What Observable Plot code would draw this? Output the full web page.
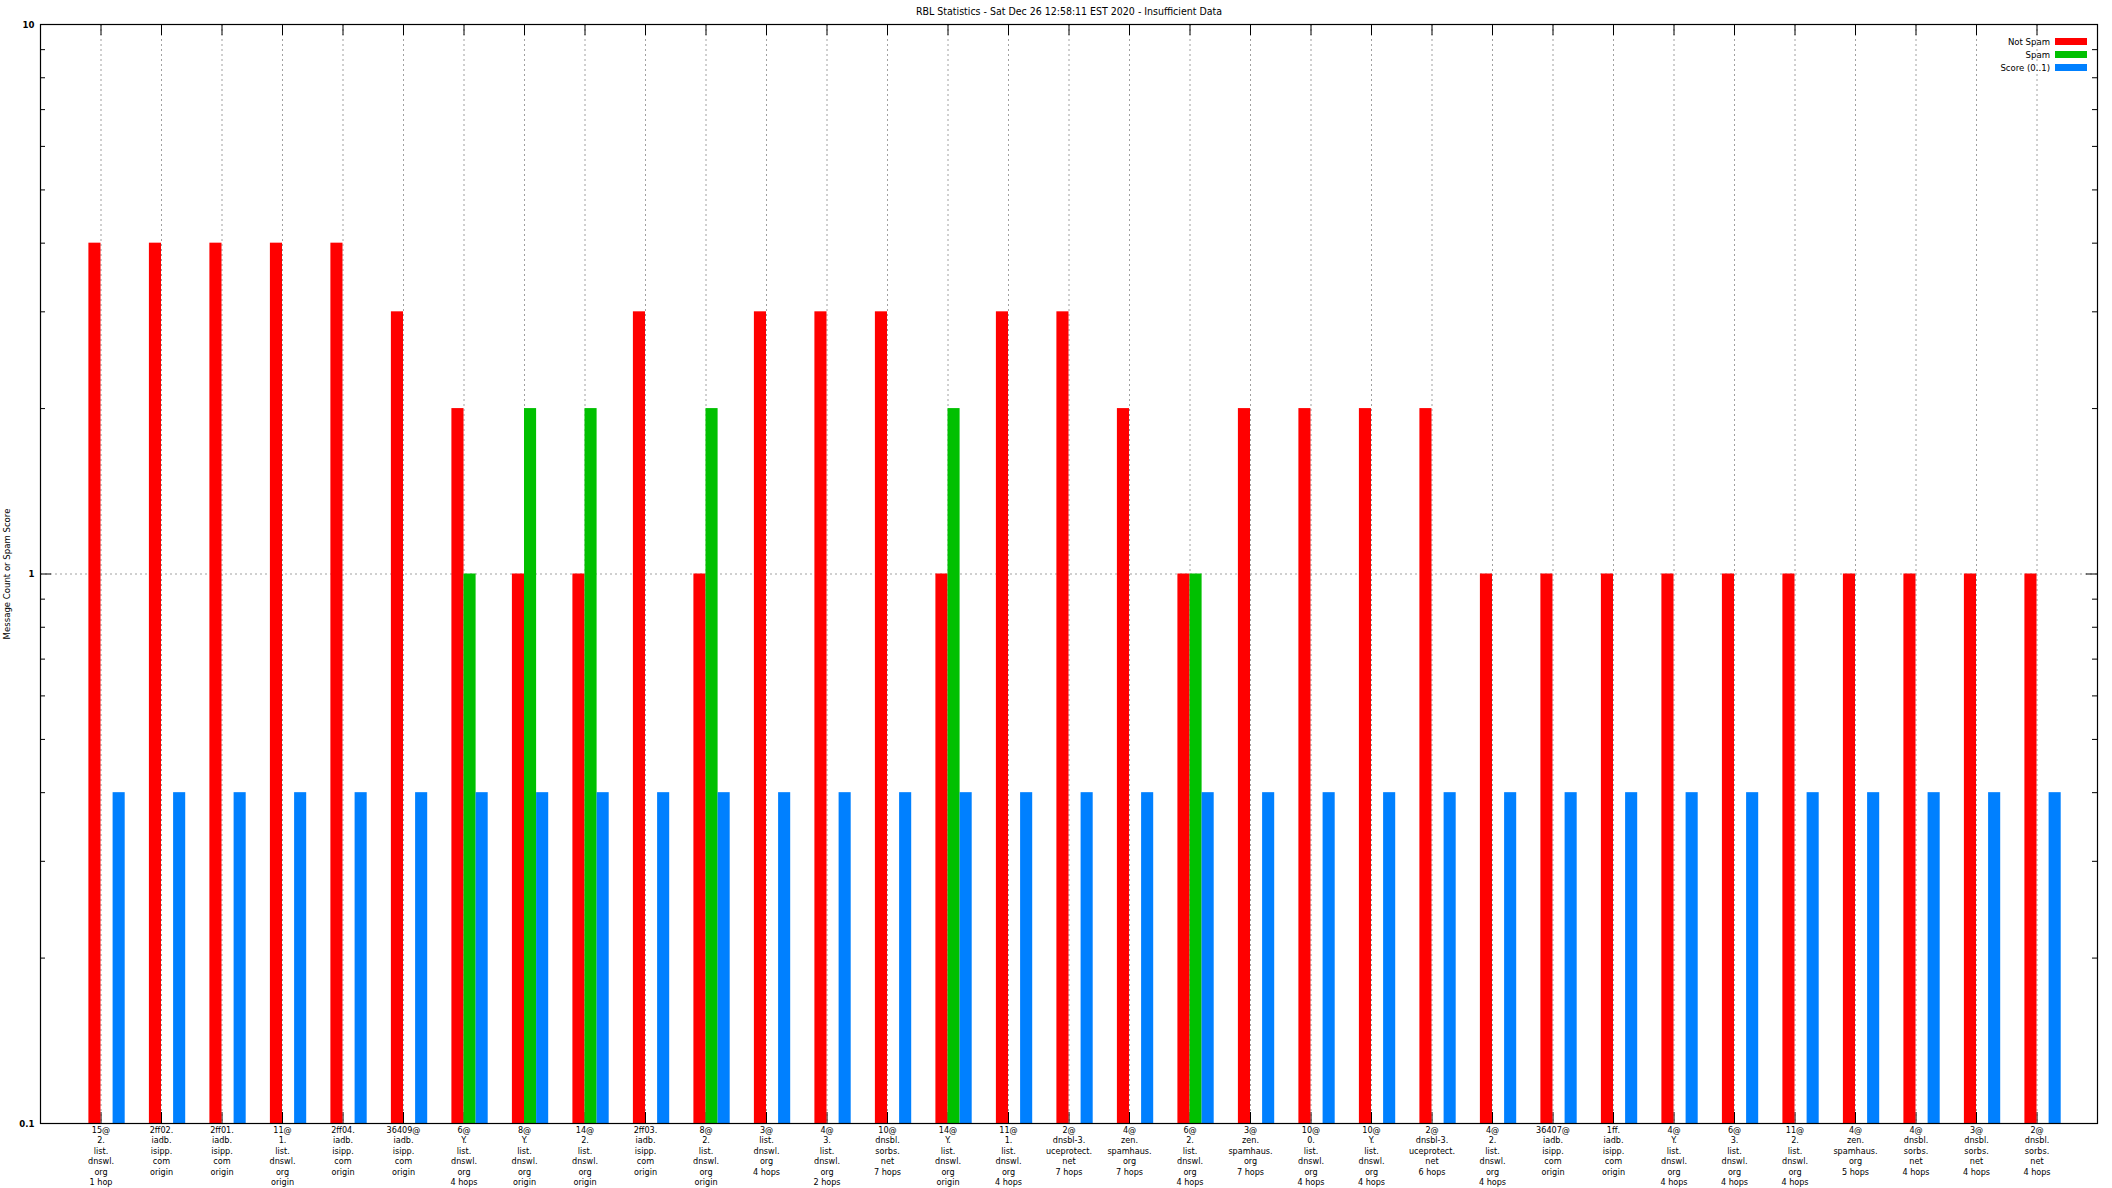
<!DOCTYPE html>
<html>
<head>
<meta charset="utf-8">
<script src="https://cdn.jsdelivr.net/npm/d3@7"></script>
<script src="https://cdn.jsdelivr.net/npm/@observablehq/plot@0.6"></script>
<style>
  html, body { margin: 0; padding: 0; background: #fff; }
  #wrap { position: relative; width: 2112px; height: 1188px; font-family: "Liberation Sans Narrow", "DejaVu Sans Condensed", "DejaVu Sans", sans-serif; }
  #legend { position: absolute; left: 0; top: 0; }
  .lg-text { position: absolute; width: 200px; text-align: right; font-size: 9.5px; line-height: 12px; color: #000; }
  .lg-sw { position: absolute; left: 2055px; width: 32px; height: 7px; }
</style>
</head>
<body>
<div id="wrap"><div id="legend"></div></div>
<script>
const title = "RBL Statistics - Sat Dec 26 12:58:11 EST 2020 - Insufficient Data";
const yLabel = "Message Count or Spam Score";

const categories = [
  "15@\n2.\nlist.\ndnswl.\norg\n1 hop",
  "2ff02.\niadb.\nisipp.\ncom\norigin",
  "2ff01.\niadb.\nisipp.\ncom\norigin",
  "11@\n1.\nlist.\ndnswl.\norg\norigin",
  "2ff04.\niadb.\nisipp.\ncom\norigin",
  "36409@\niadb.\nisipp.\ncom\norigin",
  "6@\nY.\nlist.\ndnswl.\norg\n4 hops",
  "8@\nY.\nlist.\ndnswl.\norg\norigin",
  "14@\n2.\nlist.\ndnswl.\norg\norigin",
  "2ff03.\niadb.\nisipp.\ncom\norigin",
  "8@\n2.\nlist.\ndnswl.\norg\norigin",
  "3@\nlist.\ndnswl.\norg\n4 hops",
  "4@\n3.\nlist.\ndnswl.\norg\n2 hops",
  "10@\ndnsbl.\nsorbs.\nnet\n7 hops",
  "14@\nY.\nlist.\ndnswl.\norg\norigin",
  "11@\n1.\nlist.\ndnswl.\norg\n4 hops",
  "2@\ndnsbl-3.\nuceprotect.\nnet\n7 hops",
  "4@\nzen.\nspamhaus.\norg\n7 hops",
  "6@\n2.\nlist.\ndnswl.\norg\n4 hops",
  "3@\nzen.\nspamhaus.\norg\n7 hops",
  "10@\n0.\nlist.\ndnswl.\norg\n4 hops",
  "10@\nY.\nlist.\ndnswl.\norg\n4 hops",
  "2@\ndnsbl-3.\nuceprotect.\nnet\n6 hops",
  "4@\n2.\nlist.\ndnswl.\norg\n4 hops",
  "36407@\niadb.\nisipp.\ncom\norigin",
  "1ff.\niadb.\nisipp.\ncom\norigin",
  "4@\nY.\nlist.\ndnswl.\norg\n4 hops",
  "6@\n3.\nlist.\ndnswl.\norg\n4 hops",
  "11@\n2.\nlist.\ndnswl.\norg\n4 hops",
  "4@\nzen.\nspamhaus.\norg\n5 hops",
  "4@\ndnsbl.\nsorbs.\nnet\n4 hops",
  "3@\ndnsbl.\nsorbs.\nnet\n4 hops",
  "2@\ndnsbl.\nsorbs.\nnet\n4 hops"
];

const notSpam = [4,4,4,4,4,3,2,1,1,3,1,3,3,3,1,3,3,2,1,2,2,2,2,1,1,1,1,1,1,1,1,1,1];
const spam    = [0,0,0,0,0,0,1,2,2,0,2,0,0,0,2,0,0,0,1,0,0,0,0,0,0,0,0,0,0,0,0,0,0];
const score   = [0.4,0.4,0.4,0.4,0.4,0.4,0.4,0.4,0.4,0.4,0.4,0.4,0.4,0.4,0.4,0.4,0.4,
                 0.4,0.4,0.4,0.4,0.4,0.4,0.4,0.4,0.4,0.4,0.4,0.4,0.4,0.4,0.4,0.4];

const seriesNames = ["Not Spam", "Spam", "Score (0..1)"];
const seriesColors = ["#ff0000", "#00c000", "#0080ff"];
const yTicks = [0.1, 1, 10];
const yMinor = [0.2,0.3,0.4,0.5,0.6,0.7,0.8,0.9,2,3,4,5,6,7,8,9];

// layout (styles / positions)
const W = 2112, H = 1188, ML = 40, MR = 15, MT = 24, MB = 65;
const PW = W - ML - MR, PH = H - MT - MB;
const offsets = [[-0.2, 0], [0, 0.2], [0.2, 0.4]];
const fontFam = '"Liberation Sans Narrow", "DejaVu Sans Condensed", "DejaVu Sans", sans-serif';

const seriesValues = [notSpam, spam, score];
const rows = [];
seriesValues.forEach((vals, s) => {
  vals.forEach((v, i) => { if (v > 0) rows.push({i, s, value: v}); });
});
const idx = categories.map((c, i) => i);
const catRows = categories.map((label, i) => ({i, label}));

const grid = {stroke: "#a0a0a0", strokeDasharray: "2,3", strokeWidth: 1};

const chart = Plot.plot({
  width: W, height: H,
  marginLeft: ML, marginRight: MR, marginTop: MT, marginBottom: MB,
  style: {fontFamily: fontFam, background: "#fff"},
  x: {type: "linear", domain: [-1, categories.length], axis: null},
  y: {type: "log", domain: [0.1, 10], axis: null},
  marks: [
    // grid
    Plot.ruleX(idx, {x: d => d, ...grid}),
    Plot.ruleY([1], {y: d => d, ...grid}),
    // ticks (drawn beneath bars like gnuplot)
    Plot.tickX(idx, {x: d => d, insetBottom: PH - 11, stroke: "#000"}),
    Plot.tickX(idx, {x: d => d, insetTop: PH - 11, stroke: "#000"}),
    // bars
    Plot.rect(rows, {
      x1: d => d.i + offsets[d.s][0],
      x2: d => d.i + offsets[d.s][1],
      y1: () => 0.1,
      y2: "value",
      fill: d => seriesColors[d.s]
    }),
    // y ticks
    Plot.tickY(yTicks, {y: d => d, insetRight: PW - 11, stroke: "#000"}),
    Plot.tickY(yTicks, {y: d => d, insetLeft: PW - 11, stroke: "#000"}),
    Plot.tickY(yMinor, {y: d => d, insetRight: PW - 5, stroke: "#000"}),
    Plot.tickY(yMinor, {y: d => d, insetLeft: PW - 5, stroke: "#000"}),
    Plot.frame({stroke: "#000", strokeWidth: 1.2}),
    // y tick labels
    Plot.text(yTicks, {y: d => d, frameAnchor: "left", dx: -6, textAnchor: "end",
      text: d => String(d), fontSize: 9.5, fontWeight: "bold", fill: "#000"}),
    // x category labels
    Plot.text(catRows, {x: "i", y: () => 0.1, text: "label", lineAnchor: "top",
      dy: 2, fontSize: 9, lineHeight: 1.16, fill: "#000"}),
    // y axis title
    Plot.text([yLabel], {frameAnchor: "left", textAnchor: "middle", lineAnchor: "middle",
      rotate: -90, dx: -34, fontSize: 9.5, fill: "#000"}),
    // chart title
    Plot.text([title], {frameAnchor: "top", textAnchor: "middle", lineAnchor: "middle",
      dy: -13, fontSize: 10.5, fill: "#000"})
  ]
});

const wrap = document.getElementById("wrap");
wrap.insertBefore(chart, wrap.firstChild);

const legend = document.getElementById("legend");
seriesNames.forEach((name, k) => {
  const cy = 41.5 + 13 * k;
  const t = document.createElement("div");
  t.className = "lg-text";
  t.style.top = (cy - 6) + "px";
  t.style.left = (2050 - 200) + "px";
  t.textContent = name;
  legend.appendChild(t);
  const sw = document.createElement("div");
  sw.className = "lg-sw";
  sw.style.top = (cy - 3.5) + "px";
  sw.style.background = seriesColors[k];
  legend.appendChild(sw);
});
</script>
</body>
</html>
